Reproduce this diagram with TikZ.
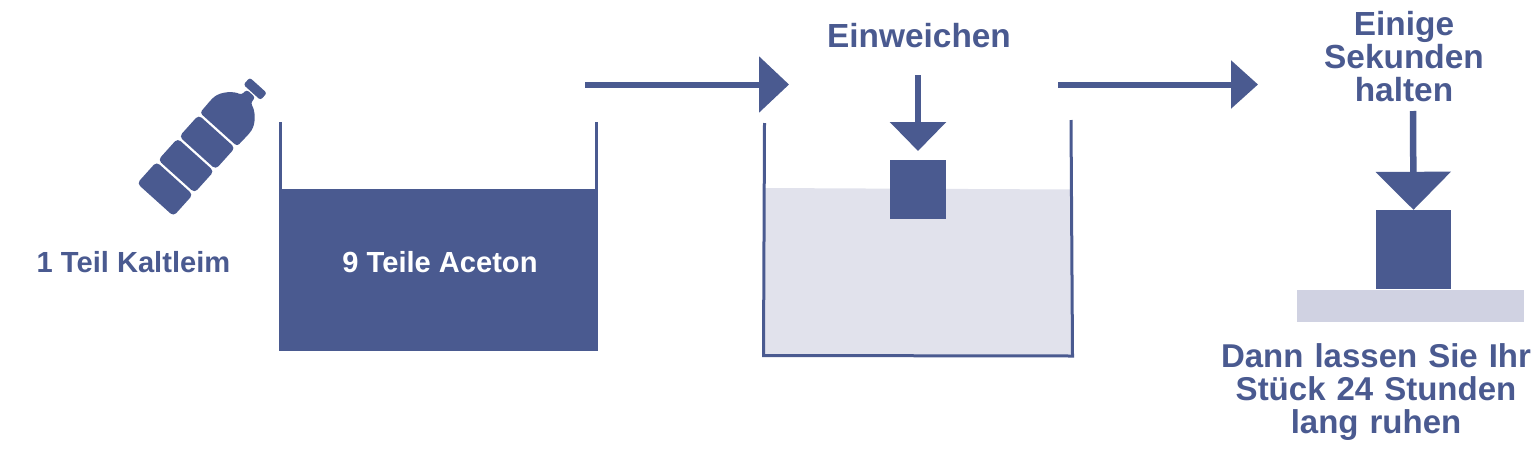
\documentclass[tikz,border=0pt]{standalone}
\usepackage{fontspec}
\setmainfont{Liberation Sans}
\usetikzlibrary{arrows.meta}
\definecolor{inkblue}{HTML}{4A5A90}
\definecolor{bathgray}{HTML}{E1E2EC}
\definecolor{plategray}{HTML}{D0D2E2}
\newcommand*{\lbl}[1]{\fontsize{#1}{33}\selectfont\bfseries}
\tikzset{
  label text/.style={text=inkblue,align=center,inner sep=0pt,font=\lbl{33.4}},
  small text/.style={text=inkblue,align=center,inner sep=0pt,font=\lbl{29.1}},
  solid block/.style={fill=inkblue,inner sep=0pt,minimum width=#1},
  tank wall/.style={draw=inkblue,line width=3pt,line join=miter},
  flow arrow/.style={draw=inkblue,line width=6pt,-{Triangle[length=30pt,width=55pt,fill=inkblue]}},
  press arrow/.style={draw=inkblue,line width=6.5pt,-{Triangle[length=29pt,width=55pt,fill=inkblue]}}
}

\begin{document}
\begin{tikzpicture}[x=1pt,y=-1pt]
\useasboundingbox (0,0) rectangle (1536,453);
% Bottle, drawn along its own axis from the lowest segment
\begin{scope}[shift={(165,189)},rotate=48]
\foreach \a in {0,31.5,63}
  \fill[inkblue,rounded corners=4pt] (\a-14.5,-24.5) rectangle (\a+14.5,24.5);
\fill[inkblue,rounded corners=3pt] (80,-25) -- (98,-25.5)
  .. controls (110,-24) and (119,-14) .. (121,-6) -- (128.5,-6) -- (128.5,6) -- (121,6)
  .. controls (119,14) and (110,24) .. (98,25.5) -- (80,25) -- cycle;
\fill[inkblue,rounded corners=2.5pt] (130,-11.5) rectangle (139.5,11.5);
\end{scope}
\node[small text] (partglue) at (133.5,262) {1 Teil Kaltleim};
% First tank, filled with acetone
\node[solid block=319pt,minimum height=162pt] (acetone) at (438.5,270) {};
\node[text=white,inner sep=0pt,font=\lbl{29.1}] (acetonetext) at (440,262) {9 Teile Aceton};
\draw[tank wall] (280.5,122) -- (280.5,190);
\draw[tank wall] (596.5,122) -- (596.5,190);
% Second tank with the piece soaking
\fill[bathgray] (764,188) -- (1072,189.5) -- (1072,355) -- (764,355) -- cycle;
\draw[tank wall] (764.5,123) -- (763.5,355.5) -- (1072.5,356) -- (1071,120);
\node[solid block=56pt,minimum height=59pt] (soakblock) at (918,189.5) {};
\node[label text] (soak) at (919,36) {Einweichen};
\coordinate (soakstart) at (918,75);
\draw[press arrow] (soakstart) -- (918,151);
% Third stage, the piece held on the plate
\node[fill=plategray,inner sep=0pt,minimum width=227pt,minimum height=32pt] (plate) at (1410.5,306) {};
\node[solid block=75pt,minimum height=79pt] (pressblock) at (1413.5,249.5) {};
\node[label text,text width=300pt] (hold) at (1404,57) {Einige\\Sekunden\\halten};
\coordinate (holdstart) at (1413,111);
\draw[press arrow,-{Triangle[length=38pt,width=74pt,fill=inkblue]}] (holdstart) -- (pressblock.north);
\node[label text,text width=330pt,font=\lbl{33}] (rest) at (1376,392.5) {Dann lassen Sie Ihr\\Stück 24 Stunden\\lang ruhen};
% Arrows between the stages
\coordinate (flowa) at (585,84.5);
\coordinate (flowb) at (789,84.5);
\draw[flow arrow] (flowa) -- (flowb);
\coordinate (flowc) at (1058,84.5);
\coordinate (flowd) at (1258,84.5);
\draw[flow arrow,-{Triangle[length=27pt,width=47pt,fill=inkblue]}] (flowc) -- (flowd);
\end{tikzpicture}
\end{document}
